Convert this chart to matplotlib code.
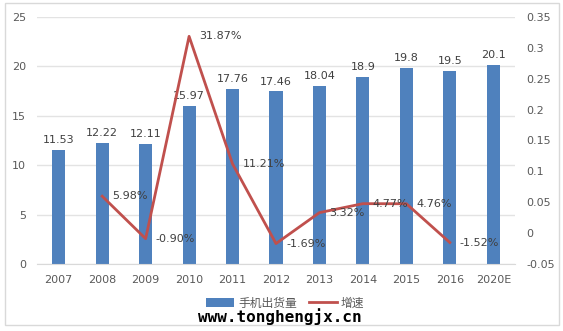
import numpy as np
import matplotlib.pyplot as plt
from matplotlib.patches import Rectangle

plt.rcParams['font.family'] = ['Noto Sans CJK SC', 'DejaVu Sans']

# data
years = ['2007', '2008', '2009', '2010', '2011', '2012', '2013', '2014', '2015', '2016', '2020E']
shipments = [11.53, 12.22, 12.11, 15.97, 17.76, 17.46, 18.04, 18.9, 19.8, 19.5, 20.1]
growth_years = ['2008', '2009', '2010', '2011', '2012', '2013', '2014', '2015', '2016']
growth = [0.0598, -0.0090, 0.3187, 0.1121, -0.0169, 0.0332, 0.0477, 0.0476, -0.0152]
growth_labels = ['5.98%', '-0.90%', '31.87%', '11.21%', '-1.69%', '3.32%', '4.77%', '4.76%', '-1.52%']

blue = '#4F81BD'
red = '#C0504D'
txt = '#595959'
grid = '#E3E3E3'

fig = plt.figure(figsize=(5.63, 3.31), dpi=100)
fig.patches.append(Rectangle((5 / 563, 1 - 325 / 331), 554 / 563, 322 / 331,
                             transform=fig.transFigure, fill=False,
                             edgecolor='#D9D9D9', linewidth=1))

ax = fig.add_axes([37 / 563, 1 - 264 / 331, 478 / 563, 247 / 331])
x = np.arange(len(years))
ax.bar(x, shipments, width=0.3, color=blue, zorder=2, label='手机出货量')
for xi, v in zip(x, shipments):
    ax.text(xi, v + 0.5, f'{v:g}', ha='center', va='bottom', fontsize=8,
            color='#404040', family='DejaVu Sans')

ax.set_ylim(0, 25)
ax.set_xlim(-0.5, len(years) - 0.5)
ax.set_yticks(np.arange(0, 26, 5))
ax.set_xticks(x)
ax.set_xticklabels(years)
ax.yaxis.grid(True, color=grid, linewidth=1, zorder=0)
for s in ax.spines.values():
    s.set_visible(False)
ax.spines['bottom'].set_visible(True)
ax.spines['bottom'].set_color('#D9D9D9')
ax.tick_params(length=0, labelsize=8, colors=txt, pad=8)
for lab in ax.get_xticklabels() + ax.get_yticklabels():
    lab.set_family('DejaVu Sans')

ax2 = ax.twinx()
gx = [years.index(y) for y in growth_years]
ax2.plot(gx, growth, color=red, linewidth=2, zorder=3, label='增速')
for xi, v, lab in zip(gx, growth, growth_labels):
    ax2.text(xi + 0.23, v, lab, ha='left', va='center', fontsize=8,
             color='#404040', family='DejaVu Sans')
ax2.set_ylim(-0.05, 0.35)
ax2.set_yticks(np.arange(-0.05, 0.36, 0.05))
ax2.set_yticklabels(['-0.05', '0', '0.05', '0.1', '0.15', '0.2', '0.25', '0.3', '0.35'])
for s in ax2.spines.values():
    s.set_visible(False)
ax2.tick_params(length=0, labelsize=8, colors=txt, pad=8)
for lab in ax2.get_yticklabels():
    lab.set_family('DejaVu Sans')

h1, l1 = ax.get_legend_handles_labels()
h2, l2 = ax2.get_legend_handles_labels()
fig.legend(h1 + h2, l1 + l2, loc='center', bbox_to_anchor=(285 / 563, 1 - 303 / 331),
           ncol=2, frameon=False, fontsize=8.5, labelcolor=txt, handlelength=2.4,
           handleheight=0.8, columnspacing=1.0, handletextpad=0.3)

fig.text(280 / 563, 1 - 317 / 331, 'www.tonghengjx.cn', ha='center', va='center',
         fontsize=11.5, fontweight='bold', family='DejaVu Sans Mono', color='black')

fig.savefig('out.png', dpi=100)
